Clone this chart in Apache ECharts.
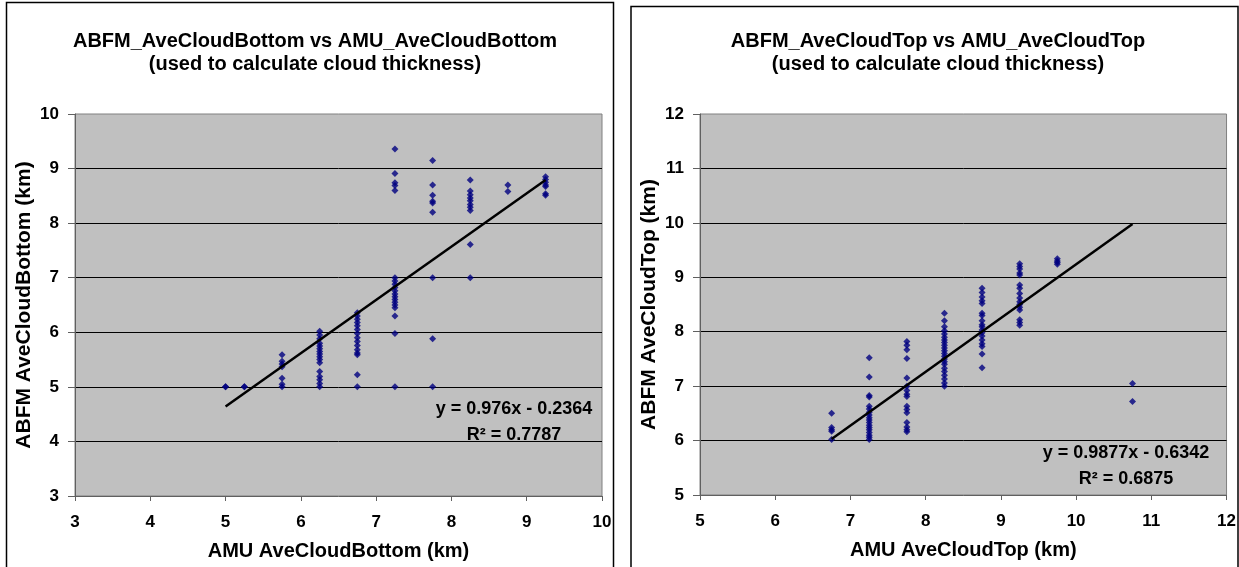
<!DOCTYPE html>
<html>
<head>
<meta charset="utf-8">
<script src="https://cdn.jsdelivr.net/npm/echarts@6/dist/echarts.min.js"></script>
<style>
html,body{margin:0;padding:0;background:#fff;}
#c{width:1239px;height:567px;}
</style>
</head>
<body>
<div id="c"></div>
<script>
// ---- Left chart: cloud bottom ----
const bottomTitle = 'ABFM_AveCloudBottom vs AMU_AveCloudBottom\n(used to calculate cloud thickness)';
const bottomXName = 'AMU AveCloudBottom (km)';
const bottomYName = 'ABFM AveCloudBottom (km)';
const bottomX = [5, 5.25, 5.75, 6.25, 6.75, 7.25, 7.75, 8.25, 8.75, 9.25];
const bottomY = [
  [5.0, 5.0],
  [5.0, 5.0],
  [5.59, 5.47, 5.42, 5.37, 5.16, 5.05, 5.0],
  [6.02, 5.95, 5.88, 5.8, 5.75, 5.7, 5.65, 5.6, 5.55, 5.5, 5.44, 5.28, 5.19, 5.13, 5.06, 5.0],
  [6.36, 6.3, 6.24, 6.18, 6.12, 6.05, 5.98, 5.9, 5.83, 5.76, 5.68, 5.62, 5.59, 5.22, 5.0],
  [9.36, 8.91, 8.74, 8.69, 8.6, 7.0, 6.94, 6.88, 6.82, 6.76, 6.7, 6.65, 6.6, 6.55, 6.5, 6.45, 6.3, 5.98, 5.0],
  [9.15, 8.7, 8.51, 8.4, 8.37, 8.2, 7.0, 5.88, 5.0],
  [8.79, 8.59, 8.52, 8.46, 8.41, 8.34, 8.29, 8.23, 7.61, 7.0],
  [8.7, 8.58],
  [8.85, 8.8, 8.75, 8.7, 8.67, 8.54, 8.51]
];
const bottomTrend = [[5, 4.64], [9.25, 8.79]];
const bottomEq = 'y = 0.976x - 0.2364';
const bottomR2 = 'R² = 0.7787';

// ---- Right chart: cloud top ----
const topTitle = 'ABFM_AveCloudTop vs AMU_AveCloudTop\n(used to calculate cloud thickness)';
const topXName = 'AMU AveCloudTop (km)';
const topYName = 'ABFM AveCloudTop (km)';
const topX = [6.75, 7.25, 7.75, 8.25, 8.75, 9.25, 9.75, 10.75];
const topY = [
  [6.5, 6.24, 6.2, 6.17, 6.02],
  [7.52, 7.17, 6.83, 6.8, 6.63, 6.58, 6.52, 6.47, 6.42, 6.38, 6.33, 6.28, 6.24, 6.2, 6.15, 6.1, 6.06, 6.02],
  [7.82, 7.75, 7.67, 7.51, 7.15, 7.0, 6.92, 6.85, 6.81, 6.63, 6.57, 6.51, 6.33, 6.25, 6.2, 6.16],
  [8.34, 8.2, 8.09, 8.02, 7.96, 7.9, 7.85, 7.8, 7.75, 7.7, 7.65, 7.6, 7.55, 7.5, 7.45, 7.4, 7.33, 7.27, 7.2, 7.13, 7.06, 7.0],
  [8.8, 8.72, 8.64, 8.57, 8.52, 8.34, 8.3, 8.2, 8.13, 8.09, 8.03, 7.98, 7.92, 7.85, 7.78, 7.73, 7.59, 7.34],
  [9.25, 9.2, 9.15, 9.08, 9.04, 8.86, 8.8, 8.7, 8.62, 8.55, 8.5, 8.45, 8.4, 8.22, 8.17, 8.12],
  [9.34, 9.3, 9.27, 9.24],
  [7.05, 6.72]
];
const topTrend = [[6.75, 6.03], [10.75, 9.98]];
const topEq = 'y = 0.9877x - 0.6342';
const topR2 = 'R² = 0.6875';

function pairs(xs, ys) {
  const out = [];
  xs.forEach((x, i) => ys[i].forEach(y => out.push([x, y])));
  return out;
}

const FONT = 'Liberation Sans';
const txt = {fontFamily: FONT, fontWeight: 'bold', color: '#000'};

function makeX(idx, min, max, name) {
  return {
    gridIndex: idx, type: 'value', min: min, max: max, interval: 1,
    name: name, nameLocation: 'middle', nameGap: 45,
    nameTextStyle: Object.assign({fontSize: 20}, txt),
    axisLine: {show: true, onZero: false, lineStyle: {color: '#606060', width: 1}},
    axisTick: {show: true, length: 5, lineStyle: {color: '#606060'}},
    axisLabel: Object.assign({fontSize: 17, margin: 18}, txt),
    splitLine: {show: false}
  };
}
function makeY(idx, min, max, name) {
  return {
    gridIndex: idx, type: 'value', min: min, max: max, interval: 1,
    name: name, nameLocation: 'middle', nameGap: 40,
    nameTextStyle: Object.assign({fontSize: 21}, txt),
    axisLine: {show: true, onZero: false, lineStyle: {color: '#606060', width: 1}},
    axisTick: {show: true, length: 7, lineStyle: {color: '#606060'}},
    axisLabel: Object.assign({fontSize: 17, margin: 16}, txt),
    splitLine: {show: true, showMinLine: false, showMaxLine: false, lineStyle: {color: '#000', width: 1}}
  };
}

const chart = echarts.init(document.getElementById('c'), null, {renderer: 'canvas'});
chart.setOption({
  animation: false,
  backgroundColor: '#fff',
  title: [
    {text: bottomTitle, left: 310, top: 25, textAlign: 'center',
     textStyle: Object.assign({fontSize: 20, lineHeight: 23}, txt)},
    {text: topTitle, left: 933, top: 25, textAlign: 'center',
     textStyle: Object.assign({fontSize: 20, lineHeight: 23}, txt)}
  ],
  grid: [
    {left: 75, top: 114, width: 527, height: 382, show: true, backgroundColor: '#c0c0c0', borderColor: '#808080', borderWidth: 1},
    {left: 700, top: 114, width: 528, height: 381, show: true, backgroundColor: '#c0c0c0', borderColor: '#808080', borderWidth: 1}
  ],
  xAxis: [makeX(0, 3, 10, bottomXName), makeX(1, 5, 12, topXName)],
  yAxis: [makeY(0, 3, 10, bottomYName), makeY(1, 5, 12, topYName)],
  series: [
    {type: 'scatter', xAxisIndex: 0, yAxisIndex: 0, data: pairs(bottomX, bottomY),
     symbol: 'diamond', symbolSize: 7, itemStyle: {color: '#000080'}, z: 3},
    {type: 'line', xAxisIndex: 0, yAxisIndex: 0, data: bottomTrend, showSymbol: false, symbol: 'none',
     lineStyle: {color: '#000', width: 2.5}, z: 4},
    {type: 'scatter', xAxisIndex: 1, yAxisIndex: 1, data: pairs(topX, topY),
     symbol: 'diamond', symbolSize: 7, itemStyle: {color: '#000080'}, z: 3},
    {type: 'line', xAxisIndex: 1, yAxisIndex: 1, data: topTrend, showSymbol: false, symbol: 'none',
     lineStyle: {color: '#000', width: 2.5}, z: 4}
  ],
  graphic: [
    {type: 'rect', shape: {x: 6.5, y: 2.5, width: 607, height: 600}, style: {fill: 'none', stroke: '#000', lineWidth: 1.5}, z: 10, silent: true},
    {type: 'rect', shape: {x: 631, y: 6.5, width: 607, height: 600}, style: {fill: 'none', stroke: '#000', lineWidth: 1.5}, z: 10, silent: true},
    {type: 'text', x: 514, y: 409, z: 10, style: {text: bottomEq, font: 'bold 18px "Liberation Sans"', fill: '#000', textAlign: 'center', textVerticalAlign: 'middle'}},
    {type: 'text', x: 514, y: 435, z: 10, style: {text: bottomR2, font: 'bold 18px "Liberation Sans"', fill: '#000', textAlign: 'center', textVerticalAlign: 'middle'}},
    {type: 'text', x: 1126, y: 453, z: 10, style: {text: topEq, font: 'bold 18px "Liberation Sans"', fill: '#000', textAlign: 'center', textVerticalAlign: 'middle'}},
    {type: 'text', x: 1126, y: 479, z: 10, style: {text: topR2, font: 'bold 18px "Liberation Sans"', fill: '#000', textAlign: 'center', textVerticalAlign: 'middle'}}
  ]
});
</script>
</body>
</html>
